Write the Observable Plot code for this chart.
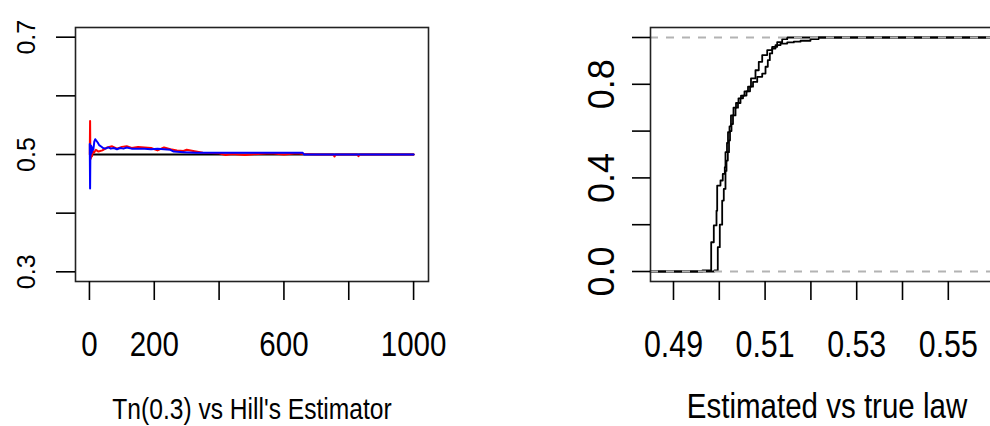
<!DOCTYPE html>
<html><head><meta charset="utf-8">
<script src="https://cdn.jsdelivr.net/npm/d3@7"></script>
<script src="https://cdn.jsdelivr.net/npm/@observablehq/plot@0.6"></script>
<style>
body{margin:0;background:#fff;}
#wrap{width:990px;height:426px;overflow:hidden;display:flex;position:relative;background:#fff;}
#wrap svg{flex:none;}
</style></head><body><div id="wrap"></div>
<script>
const FONT = "'Liberation Sans',Arial,Helvetica,sans-serif";
const SQUEEZE = 0.82; // horizontal text in the reference is drawn narrow

// ---- Left panel: Tn(0.3) vs Hill's estimator ----
const hillN = [10, 1000];
const hillVals = [0.5, 0.5];
const redN = [1,2,3,4,5,6,8,10,14,20,28,40,55,70,85,100,115,130,150,170,190,210,230,250,270,290,300,320,350,400,420,440,480,520,560,600,640,660,700,752,756,760,826,830,834,1000];
const redVals = [0.500,0.557,0.492,0.510,0.494,0.505,0.497,0.506,0.503,0.508,0.505,0.507,0.512,0.514,0.510,0.513,0.514,0.511,0.513,0.512,0.511,0.507,0.512,0.509,0.507,0.506,0.508,0.506,0.503,0.502,0.499,0.501,0.499,0.501,0.502,0.500,0.502,0.501,0.500,0.500,0.4965,0.500,0.500,0.497,0.500,0.500];
const blueN = [1,2,3,4,5,7,9,12,15,18,22,26,30,35,42,50,58,66,75,85,95,105,115,130,150,170,190,210,230,250,260,290,330,400,500,600,658,662,1000];
const blueVals = [0.518,0.442,0.512,0.500,0.515,0.503,0.512,0.508,0.522,0.526,0.523,0.520,0.516,0.514,0.511,0.510,0.512,0.510,0.511,0.509,0.511,0.510,0.512,0.510,0.510,0.510,0.509,0.510,0.509,0.508,0.505,0.504,0.503,0.503,0.503,0.503,0.503,0.500,0.500];
const leftXTicks = [0, 200, 400, 600, 800, 1000];
const leftXLabels = ["0", "200", "", "600", "", "1000"];
const leftYTicks = [0.3, 0.4, 0.5, 0.6, 0.7];
const leftYLabels = ["0.3", "", "0.5", "", "0.7"];
const leftTitle = "Tn(0.3) vs Hill's Estimator";

// ---- Right panel: estimated vs true law (two ECDFs) ----
const ecdfAX = [0.49633,0.49823,0.49880,0.49939,0.49954,0.50026,0.50076,0.50120,0.50135,0.50168,0.50190,0.50223,0.50255,0.50310,0.50365,0.50419,0.50474,0.50550,0.50627,0.50692,0.50790,0.50862,0.50937,0.51046,0.51155,0.51264,0.51373,0.51483];
const ecdfAF = [0.005,0.125,0.197,0.26,0.367,0.389,0.417,0.446,0.51,0.55,0.595,0.62,0.667,0.70,0.72,0.74,0.752,0.77,0.79,0.825,0.86,0.896,0.925,0.946,0.96,0.98,0.993,1.0];
const ecdfBX = [0.49895,0.49967,0.50011,0.50063,0.50098,0.50135,0.50157,0.50186,0.50212,0.50234,0.50266,0.50299,0.50354,0.50408,0.50463,0.50518,0.50594,0.50671,0.50736,0.50828,0.50937,0.51009,0.51059,0.51103,0.51155,0.51227,0.51336,0.51483,0.51627,0.51773,0.51991,0.52166];
const ecdfBF = [0.005,0.104,0.2,0.303,0.353,0.43,0.474,0.51,0.56,0.6,0.63,0.667,0.70,0.72,0.74,0.752,0.77,0.79,0.81,0.832,0.846,0.875,0.903,0.932,0.953,0.967,0.974,0.979,0.982,0.986,0.993,1.0];
const rightXTicks = [0.49, 0.50, 0.51, 0.52, 0.53, 0.54, 0.55, 0.56];
const rightXLabels = ["0.49", "", "0.51", "", "0.53", "", "0.55", ""];
const rightYTicks = [0, 0.2, 0.4, 0.6, 0.8, 1.0];
const rightYLabels = ["0.0", "", "0.4", "", "0.8", ""];
const refLevels = [0, 1];
const rightTitle = "Estimated vs true law";

// ---- layout ----
const W = 575, H = 426;
const M = {marginLeft: 75, marginRight: 147, marginTop: 27, marginBottom: 145};
const rows = (xs, ys) => xs.map((x, i) => ({x, y: ys[i]}));
const fmt = (ticks, labels) => d => labels[ticks.indexOf(d)] ?? "";

const leftXDomain = [-43, 1046];
const leftYDomain = [0.2835, 0.7165];
const left = Plot.plot({
  width: W, height: H, ...M,
  x: {domain: leftXDomain},
  y: {domain: leftYDomain},
  style: {fontFamily: FONT, background: "white", color: "black"},
  marks: [
    Plot.line(rows(hillN, hillVals), {x: "x", y: "y", stroke: "black", strokeWidth: 2}),
    Plot.line(rows(redN, redVals), {x: "x", y: "y", stroke: "#ff0000", strokeWidth: 2}),
    Plot.line(rows(blueN, blueVals), {x: "x", y: "y", stroke: "#0000ff", strokeWidth: 2}),
    Plot.frame({stroke: "#222", strokeWidth: 1.6}),
    Plot.axisX(leftXTicks, {tickSize: 19, tickPadding: 30, tickFormat: fmt(leftXTicks, leftXLabels), fontSize: 36, strokeWidth: 1.6, label: null, className: "squeeze"}),
    Plot.axisY(leftYTicks, {tickSize: 19, tickPadding: 22, tickRotate: -90, tickFormat: fmt(leftYTicks, leftYLabels), fontSize: 25, strokeWidth: 1.6, label: null}),
    Plot.text([leftTitle], {frameAnchor: "bottom", dy: 137, lineAnchor: "bottom", text: d => d, fontSize: 30, fill: "black", className: "squeeze"})
  ]
});

const rightXDomain = [0.48498, 0.56205];
const rightYDomain = [-0.0427, 1.0427];
const ecdfRows = (xs, fs) => [{x: rightXDomain[0], y: 0}, ...rows(xs, fs), {x: rightXDomain[1], y: 1}];
const right = Plot.plot({
  width: W, height: H, ...M,
  x: {domain: rightXDomain},
  y: {domain: rightYDomain},
  style: {fontFamily: FONT, background: "white", color: "black"},
  marks: [
    Plot.line(ecdfRows(ecdfAX, ecdfAF), {x: "x", y: "y", curve: "step-after", stroke: "black", strokeWidth: 1.8}),
    Plot.line(ecdfRows(ecdfBX, ecdfBF), {x: "x", y: "y", curve: "step-after", stroke: "black", strokeWidth: 1.8}),
    Plot.ruleY(refLevels, {stroke: "#b3b3b3", strokeWidth: 1.8, strokeDasharray: "8,8"}),
    Plot.frame({stroke: "#222", strokeWidth: 1.6}),
    Plot.axisX(rightXTicks, {tickSize: 19, tickPadding: 30, tickFormat: fmt(rightXTicks, rightXLabels), fontSize: 37, strokeWidth: 1.6, label: null, className: "squeeze"}),
    Plot.axisY(rightYTicks, {tickSize: 18, tickPadding: 19, tickRotate: -90, tickFormat: fmt(rightYTicks, rightYLabels), fontSize: 36, strokeWidth: 1.6, label: null}),
    Plot.text([rightTitle], {frameAnchor: "bottom", dy: 136, lineAnchor: "bottom", text: d => d, fontSize: 36, fill: "black", className: "squeeze"})
  ]
});

document.getElementById("wrap").append(left, right);
// narrow the horizontal texts around their (middle) anchors
document.querySelectorAll("g[class*='squeeze'] text, .squeeze text").forEach(t => {
  const tr = t.getAttribute("transform") || "";
  if (/translate/.test(tr)) {
    t.setAttribute("transform", `${tr} scale(${SQUEEZE},1)`);
  } else {
    const x = +t.getAttribute("x") || 0;
    t.setAttribute("transform", `${tr} translate(${x},0) scale(${SQUEEZE},1) translate(${-x},0)`);
  }
});
</script></body></html>
